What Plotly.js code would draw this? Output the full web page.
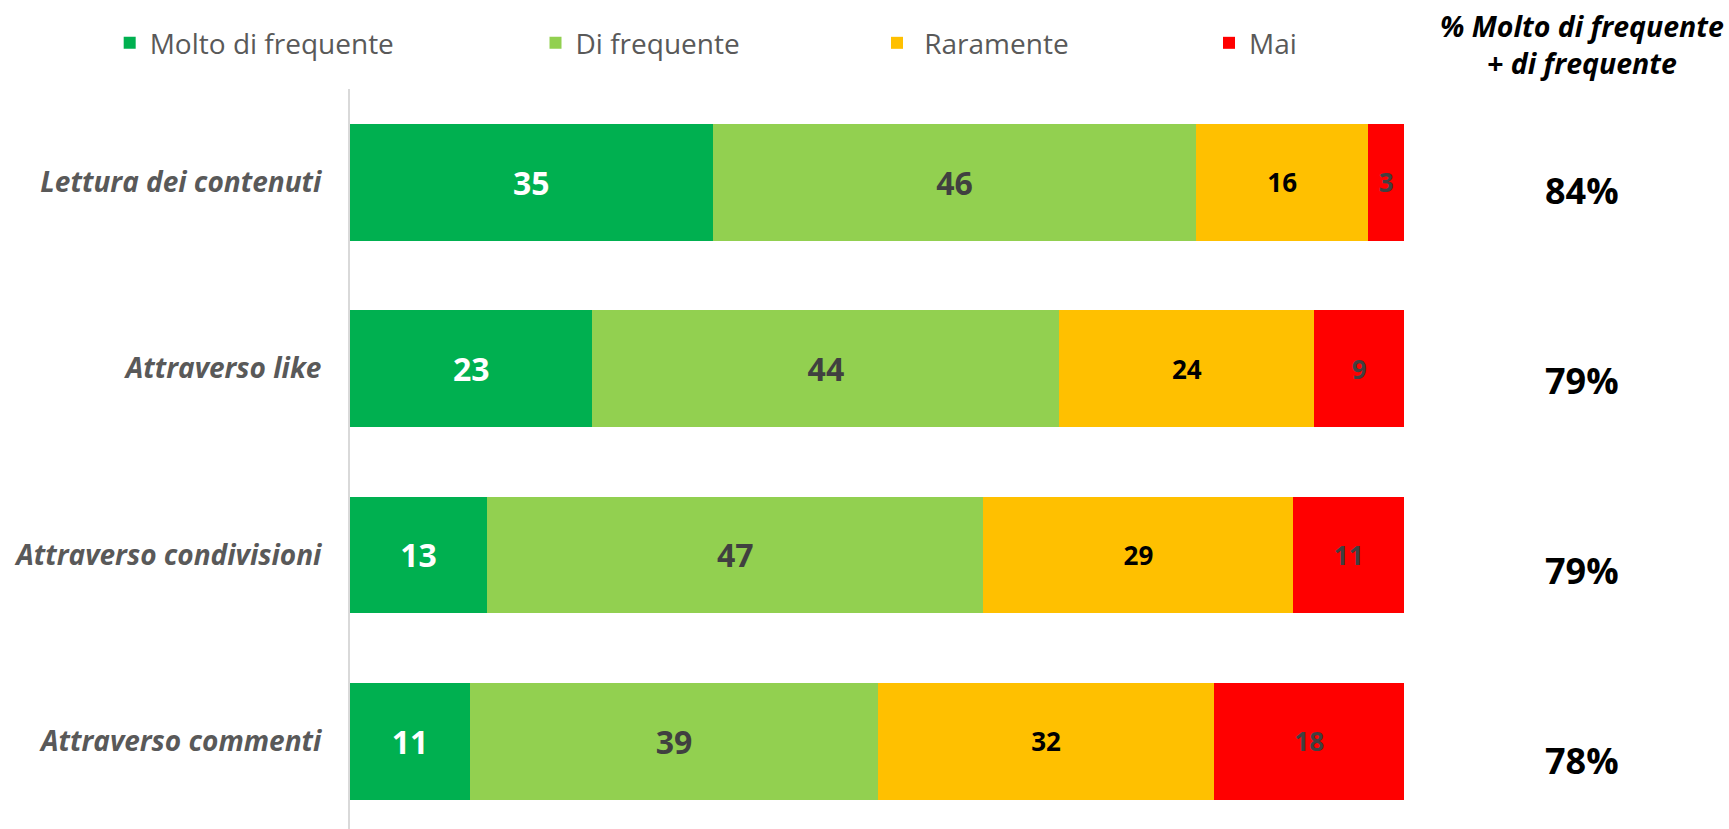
<!DOCTYPE html>
<html>
<head>
<meta charset="utf-8">
<script src="https://cdn.plot.ly/plotly-3.0.1.min.js"></script>
<style>
  html, body { margin: 0; padding: 0; background: #ffffff; }
  #chart { width: 1729px; height: 829px; }
</style>
</head>
<body>
<div id="chart"></div>
<script>
// ---- data ----
const categories = [
  "Lettura dei contenuti",
  "Attraverso like",
  "Attraverso condivisioni",
  "Attraverso commenti"
];
const seriesNames = ["Molto di frequente", "Di frequente", " Raramente", "Mai"];
// segment widths (%)
const moltoFrequente = [34.4, 23.0, 13.0, 11.4];
const diFrequente    = [45.9, 44.3, 47.1, 38.7];
const raramente      = [16.3, 24.2, 29.4, 31.9];
const mai            = [3.4, 8.5, 10.5, 18.0];
// data labels as printed on the bars
const moltoFrequenteLabels = [35, 23, 13, 11];
const diFrequenteLabels    = [46, 44, 47, 39];
const raramenteLabels      = [16, 24, 29, 32];
const maiLabels            = [3, 9, 11, 18];
// right-hand column
const sideHeader = "% Molto di frequente<br>+ di frequente";
const sideValues = ["84%", "79%", "79%", "78%"];

// ---- styles ----
const FONT = "'Open Sans', 'Noto Sans', sans-serif";
const colors = ["#00B050", "#92D050", "#FFC000", "#FF0000"];
const labelColors = ["#FFFFFF", "#404040", "#000000", "#404040"];
const labelSizes = [32, 32, 26, 26];
const legendIds = ["legend", "legend2", "legend3", "legend4"];
const legendX = [-0.228, 0.176, 0.500, 0.815];
const sideYShift = [-8, -12, -16, -19];

const values = [moltoFrequente, diFrequente, raramente, mai];
const labels = [moltoFrequenteLabels, diFrequenteLabels, raramenteLabels, maiLabels];

const traces = values.map((v, i) => ({
  type: "bar",
  orientation: "h",
  name: seriesNames[i],
  y: categories,
  x: v,
  text: labels[i].map(String),
  textposition: "inside",
  insidetextanchor: "middle",
  constraintext: "none",
  textfont: { family: FONT, size: labelSizes[i], color: labelColors[i], weight: 700 },
  marker: { color: colors[i], line: { width: 0 } },
  legend: legendIds[i],
  hoverinfo: "skip"
}));

const legendBase = {
  orientation: "h",
  y: 1.062,
  yanchor: "middle",
  xanchor: "left",
  bgcolor: "rgba(0,0,0,0)",
  font: { family: FONT, size: 28, color: "#595959" }
};

const layout = {
  width: 1729,
  height: 829,
  margin: { l: 350, r: 325, t: 89, b: 0, pad: 0 },
  paper_bgcolor: "#ffffff",
  plot_bgcolor: "#ffffff",
  barmode: "stack",
  bargap: 0.374,
  showlegend: true,
  hovermode: false,
  xaxis: {
    range: [0, 100],
    showgrid: false,
    zeroline: false,
    showline: false,
    showticklabels: false,
    ticks: "",
    fixedrange: true
  },
  yaxis: {
    type: "category",
    categoryorder: "array",
    categoryarray: categories,
    range: [3.47, -0.5],
    showgrid: false,
    zeroline: false,
    showline: true,
    linecolor: "#D9D9D9",
    linewidth: 2,
    ticks: "",
    ticklabelstandoff: 21,
    tickfont: { family: FONT, size: 28, color: "#595959", weight: 700, style: "italic" },
    fixedrange: true
  },
  annotations: [
    {
      xref: "paper", yref: "paper",
      x: 1.169, y: 1.0607,
      xanchor: "center", yanchor: "middle",
      text: sideHeader,
      showarrow: false,
      align: "center",
      font: { family: FONT, size: 28.5, color: "#000000", weight: 700, style: "italic" }
    }
  ].concat(sideValues.map((t, i) => ({
    xref: "paper", yref: "y",
    x: 1.169, y: categories[i],
    yshift: sideYShift[i],
    xanchor: "center", yanchor: "middle",
    text: t,
    showarrow: false,
    font: { family: FONT, size: 36, color: "#000000", weight: 700 }
  })))
};
legendIds.forEach((id, i) => {
  layout[id] = Object.assign({}, legendBase, { x: legendX[i] });
});

Plotly.newPlot("chart", traces, layout, { displayModeBar: false, staticPlot: true });
</script>
</body>
</html>
